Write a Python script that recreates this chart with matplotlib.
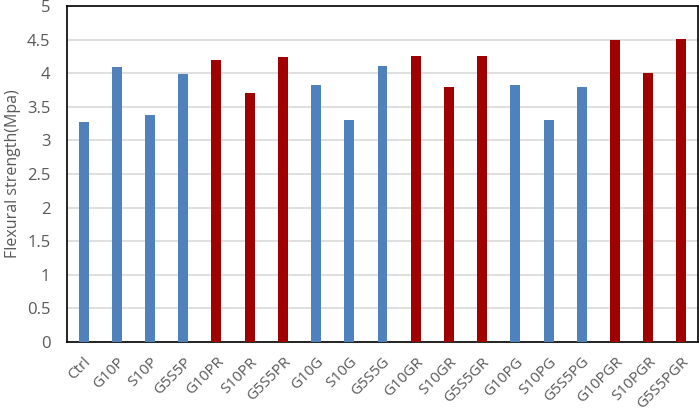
import matplotlib.pyplot as plt
import numpy as np

plt.rcParams['font.family'] = ['Open Sans', 'DejaVu Sans']

# sample names and flexural strength (MPa)
names = ['Ctrl', 'G10P', 'S10P', 'G5S5P', 'G10PR', 'S10PR', 'G5S5PR',
         'G10G', 'S10G', 'G5S5G', 'G10GR', 'S10GR', 'G5S5GR',
         'G10PG', 'S10PG', 'G5S5PG', 'G10PGR', 'S10PGR', 'G5S5PGR']
strength = [3.27, 4.09, 3.38, 3.99, 4.19, 3.71, 4.24,
            3.83, 3.30, 4.10, 4.25, 3.80, 4.26,
            3.83, 3.31, 3.79, 4.49, 4.00, 4.51]

blue = '#4F81BD'
red = '#A00000'
colors = [red if n.endswith('R') else blue for n in names]

fig = plt.figure(figsize=(6.99, 4.15), dpi=100)
ax = fig.add_axes([67/699, 1 - 342/415, 631/699, 336/415])

x = np.arange(len(names))
ax.bar(x, strength, width=0.3, color=colors, zorder=3)

ax.set_xlim(-0.5, len(names) - 0.5)
ax.set_ylim(0, 5)
ax.set_yticks(np.arange(0, 5.01, 0.5))
ax.set_yticklabels(['0', '0.5', '1', '1.5', '2', '2.5', '3', '3.5', '4', '4.5', '5'])
ax.yaxis.grid(True, color='#D9D9D9', linewidth=1.2, zorder=0)
ax.set_xticks(x)
ax.set_xticklabels(names, rotation=45, ha='right', rotation_mode='anchor')
ax.tick_params(axis='both', length=0, labelsize=12, labelcolor='#595959')
ax.tick_params(axis='x', pad=9, labelsize=11)
ax.tick_params(axis='y', pad=12)
for s in ax.spines.values():
    s.set_color('black')
    s.set_linewidth(1.2)

ax.set_ylabel('Flexural strength(Mpa)', fontsize=11.5, color='#595959', labelpad=4)

fig.savefig('out.png', dpi=100)
